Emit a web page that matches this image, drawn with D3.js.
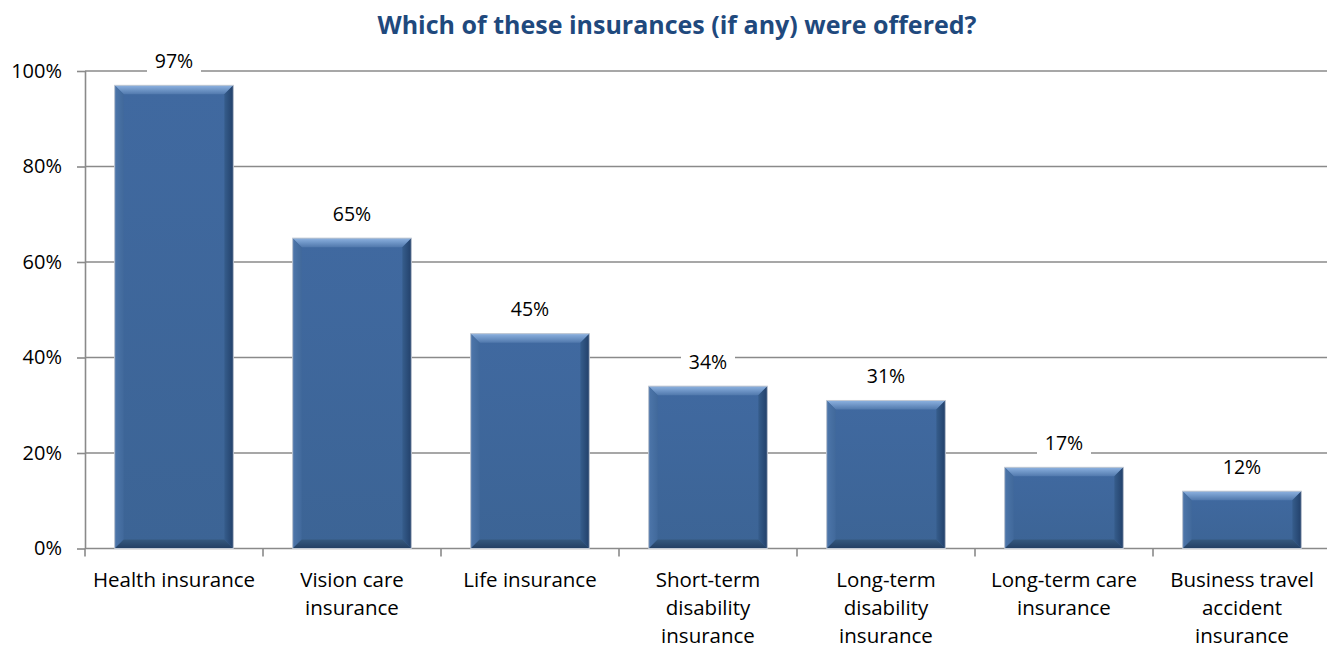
<!DOCTYPE html>
<html>
<head>
<meta charset="utf-8">
<script src="https://cdn.jsdelivr.net/npm/d3@7/dist/d3.min.js"></script>
<style>
  html, body { margin: 0; padding: 0; background: #fff; }
  svg { display: block; }
  text { font-family: "Open Sans", Lato, sans-serif; }
</style>
</head>
<body>
<svg id="chart" width="1327" height="647"></svg>
<script>
// Survey results: share of respondents offered each insurance type
const chartTitle = "Which of these insurances (if any) were offered?";
const categories = [
  "Health insurance",
  "Vision care insurance",
  "Life insurance",
  "Short-term disability insurance",
  "Long-term disability insurance",
  "Long-term care insurance",
  "Business travel accident insurance"
];
// wrapped category labels as shown under the axis
const categoryLines = [
  ["Health insurance"],
  ["Vision care", "insurance"],
  ["Life insurance"],
  ["Short-term", "disability", "insurance"],
  ["Long-term", "disability", "insurance"],
  ["Long-term care", "insurance"],
  ["Business travel", "accident", "insurance"]
];
const values = [0.97, 0.65, 0.45, 0.34, 0.31, 0.17, 0.12];
const yTicks = [0, 0.2, 0.4, 0.6, 0.8, 1.0];

const svg = d3.select("#chart");
const plot = { left: 85, right: 1331, top: 71, bottom: 548.5 };

const x = d3.scaleBand()
  .domain(categories)
  .range([plot.left, plot.right])
  .paddingInner(1 / 3)
  .paddingOuter(1 / 6);

const y = d3.scaleLinear().domain([0, 1]).range([plot.bottom, plot.top]);

const gridColor = "#8a8a8a";
const fmt = d3.format(".0%");

// gradients for the bevelled bars
const defs = svg.append("defs");
function linGrad(id, x1, y1, x2, y2, stops) {
  const g = defs.append("linearGradient").attr("id", id)
    .attr("x1", x1).attr("y1", y1).attr("x2", x2).attr("y2", y2);
  stops.forEach(s => g.append("stop").attr("offset", s[0]).attr("stop-color", s[1]));
}
linGrad("bevTop", 0, 0, 0, 1, [[0, "#8db2e0"], [1, "#5179ad"]]);
linGrad("bevLeft", 0, 0, 1, 0, [[0, "#4d76aa"], [1, "#41699b"]]);
linGrad("bevRight", 0, 0, 1, 0, [[0, "#365d8c"], [1, "#22406a"]]);
linGrad("bevBottom", 0, 0, 0, 1, [[0, "#35597f"], [1, "#233f63"]]);
linGrad("face", 0, 0, 0, 1, [[0, "#4069a0"], [1, "#3c6495"]]);

// title
svg.append("text")
  .attr("x", 677).attr("y", 34)
  .attr("text-anchor", "middle")
  .attr("font-size", 25).attr("font-weight", "bold")
  .attr("fill", "#1f497d")
  .text(chartTitle);

// horizontal gridlines
svg.append("g").selectAll("line")
  .data(yTicks.filter(d => d > 0))
  .join("line")
  .attr("x1", plot.left).attr("x2", plot.right)
  .attr("y1", d => y(d)).attr("y2", d => y(d))
  .attr("stroke", gridColor).attr("stroke-width", 1.6);

// y axis
const yAxis = svg.append("g")
  .attr("transform", `translate(${plot.left},0)`)
  .call(d3.axisLeft(y).tickValues(yTicks).tickFormat(fmt).tickSize(8).tickPadding(15));
yAxis.select(".domain").attr("stroke", gridColor).attr("stroke-width", 1.6)
  .attr("d", `M0.5,${plot.top}V${plot.bottom}`);
yAxis.selectAll(".tick line").attr("stroke", gridColor).attr("stroke-width", 1.6);
yAxis.selectAll(".tick text").attr("font-size", 20).attr("fill", "#000")
  .style("font-family", "'Open Sans', Lato, sans-serif");

// x axis baseline and tick marks at category boundaries
const step = x.step();
const bounds = d3.range(categories.length + 1).map(i => plot.left + i * step);
svg.append("line")
  .attr("x1", plot.left).attr("x2", plot.right)
  .attr("y1", y(0)).attr("y2", y(0))
  .attr("stroke", gridColor).attr("stroke-width", 1.6);
svg.append("g").selectAll("line")
  .data(bounds)
  .join("line")
  .attr("x1", d => d).attr("x2", d => d)
  .attr("y1", y(0)).attr("y2", y(0) + 8)
  .attr("stroke", gridColor).attr("stroke-width", 1.6);

// category labels
const catG = svg.append("g");
categories.forEach((c, i) => {
  const cx = x(c) + x.bandwidth() / 2;
  const t = catG.append("text")
    .attr("x", cx)
    .attr("y", 586.5)
    .attr("text-anchor", "middle")
    .attr("font-size", 20.5)
    .attr("fill", "#000");
  categoryLines[i].forEach((ln, j) => {
    t.append("tspan").attr("x", cx)
      .attr("dy", j === 0 ? 0 : 28).text(ln);
  });
});

// bars with bevelled edges
const bev = 9;
const bars = svg.append("g").selectAll("g")
  .data(categories.map((c, i) => ({ c, v: values[i] })))
  .join("g");

bars.each(function (d) {
  const g = d3.select(this);
  const x0 = x(d.c), x1 = x0 + x.bandwidth();
  const y0 = y(d.v), y1 = y(0);
  const pts = a => a.map(p => p.join(",")).join(" ");
  g.append("rect").attr("x", x0).attr("y", y0)
    .attr("width", x1 - x0).attr("height", y1 - y0)
    .attr("fill", "url(#face)");
  g.append("polygon").attr("points", pts([[x0, y0], [x1, y0], [x1 - bev, y0 + bev], [x0 + bev, y0 + bev]]))
    .attr("fill", "url(#bevTop)");
  g.append("polygon").attr("points", pts([[x0, y0], [x0 + bev, y0 + bev], [x0 + bev, y1 - bev], [x0, y1]]))
    .attr("fill", "url(#bevLeft)");
  g.append("polygon").attr("points", pts([[x1, y0], [x1, y1], [x1 - bev, y1 - bev], [x1 - bev, y0 + bev]]))
    .attr("fill", "url(#bevRight)");
  g.append("polygon").attr("points", pts([[x0, y1], [x0 + bev, y1 - bev], [x1 - bev, y1 - bev], [x1, y1]]))
    .attr("fill", "url(#bevBottom)");
  g.append("rect").attr("x", x0).attr("y", y0)
    .attr("width", x1 - x0).attr("height", y1 - y0)
    .attr("fill", "none").attr("stroke", "#c3cad4").attr("stroke-width", 1);
});

// value labels on white boxes
const lab = svg.append("g").selectAll("g")
  .data(categories.map((c, i) => ({ c, v: values[i] })))
  .join("g")
  .attr("transform", d => `translate(${x(d.c) + x.bandwidth() / 2},${y(d.v) - 24})`);
lab.append("rect").attr("x", -27).attr("y", -13).attr("width", 54).attr("height", 26).attr("fill", "#fff");
lab.append("text")
  .attr("text-anchor", "middle").attr("dy", "0.35em")
  .attr("font-size", 19.5).attr("fill", "#000")
  .text(d => fmt(d.v));
</script>
</body>
</html>
